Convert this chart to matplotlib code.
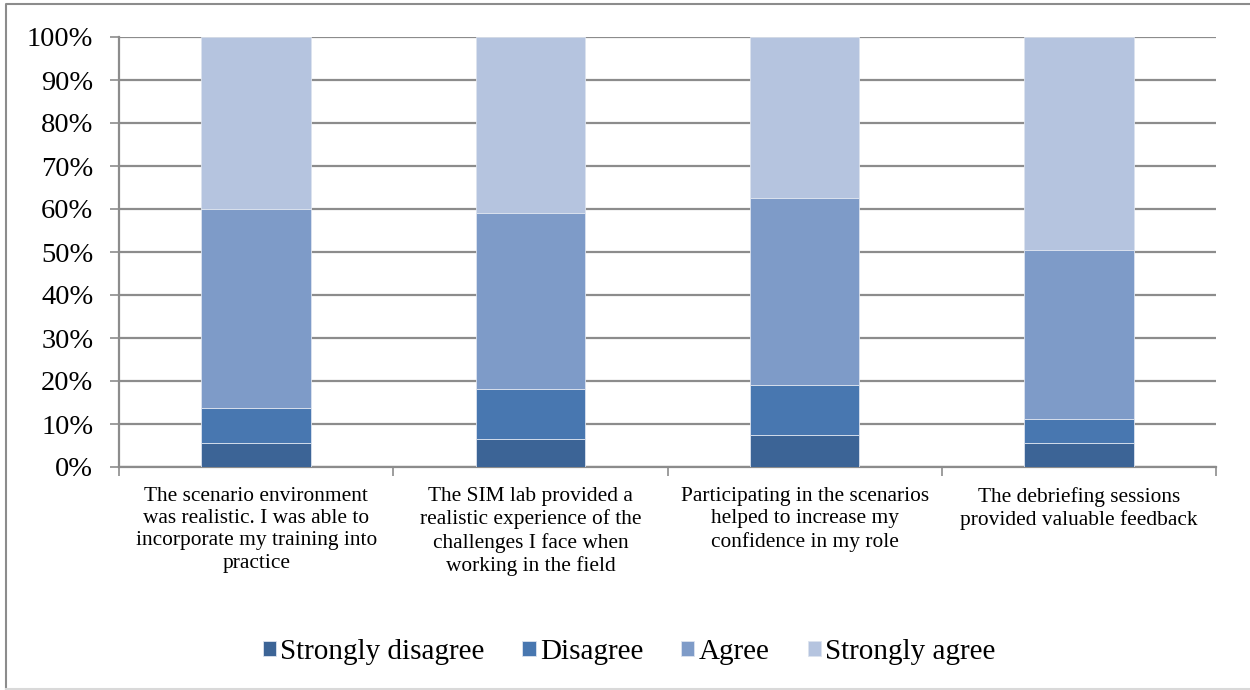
import numpy as np
import matplotlib.pyplot as plt
from matplotlib.patches import Rectangle

# survey statements and response shares (percent)
categories = [
    "The scenario environment\nwas realistic. I was able to\nincorporate my training into\npractice",
    "The SIM lab provided a\nrealistic experience of the\nchallenges I face when\nworking in the field",
    "Participating in the scenarios\nhelped to increase my\nconfidence in my role",
    "The debriefing sessions\nprovided valuable feedback",
]
series_names = ["Strongly disagree", "Disagree", "Agree", "Strongly agree"]
strongly_disagree = [5.5, 6.4, 7.4, 5.6]
disagree = [8.3, 11.8, 11.7, 5.5]
agree = [46.2, 40.9, 43.5, 39.4]
strongly_agree = [40.0, 40.9, 37.4, 49.5]
colors = ["#3C6496", "#4877B0", "#7E9BC8", "#B5C4DF"]

plt.rcParams['font.family'] = ['Liberation Serif', 'DejaVu Serif']

fig = plt.figure(figsize=(12.5, 6.9), dpi=100)
ax = fig.add_axes([119 / 1250, 1 - 467 / 690, (1216 - 119) / 1250, (467 - 37) / 690])

# outer frame like the pasted chart object (left and top dark, bottom faint)
fig.lines.append(plt.Line2D([6 / 1250, 6 / 1250, 1.0], [0.0, 1 - 4 / 690, 1 - 4 / 690],
                            transform=fig.transFigure, color="#8C8C8C", linewidth=1.5))
fig.lines.append(plt.Line2D([6 / 1250, 1.0], [1 / 690, 1 / 690],
                            transform=fig.transFigure, color="#D9D9D9", linewidth=1.5))

x = np.arange(len(categories))
bottom = np.zeros(len(categories))
for name, vals, c in zip(series_names, [strongly_disagree, disagree, agree, strongly_agree], colors):
    ax.bar(x, vals, width=0.4, bottom=bottom, color=c, edgecolor="#DCE3EF",
           linewidth=0.6, label=name, zorder=3)
    bottom += np.array(vals)

ax.set_xlim(-0.5, len(categories) - 0.5)
ax.set_ylim(0, 100)
ax.set_yticks(np.arange(0, 101, 10))
ax.set_yticklabels([f"{v}%" for v in range(0, 101, 10)], fontsize=20.5)
ax.yaxis.grid(True, color="#8C8C8C", linewidth=1.6, zorder=0)
ax.set_axisbelow(True)

ax.set_xticks(np.arange(-0.5, len(categories), 1), minor=False)
ax.set_xticklabels([])
ax.tick_params(axis="x", length=6.5, color="#8C8C8C", width=1.2)
ax.tick_params(axis="y", length=6.5, color="#8C8C8C", width=1.2, pad=12)
for i, lab in enumerate(categories):
    ax.text(i, -4.6, lab, ha="center", va="top", fontsize=15.4,
            linespacing=1.24, transform=ax.transData)

for side in ["top", "right"]:
    ax.spines[side].set_visible(False)
for side in ["left", "bottom"]:
    ax.spines[side].set_color("#8C8C8C")
    ax.spines[side].set_linewidth(1.6)

fig.legend(loc="center", bbox_to_anchor=(629 / 1250, 1 - 652 / 690), ncol=4,
           frameon=False, fontsize=21, handlelength=0.45, handleheight=0.45,
           handletextpad=0.15, columnspacing=1.3)

fig.savefig("out.png", dpi=100)
